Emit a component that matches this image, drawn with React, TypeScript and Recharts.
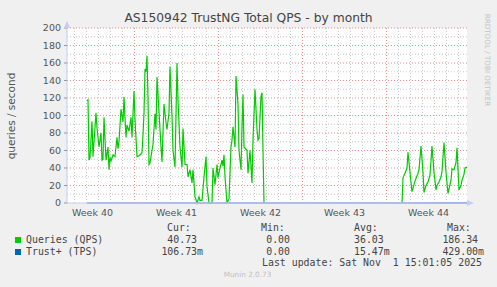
import { LineChart, Line, XAxis, YAxis, ReferenceLine, CartesianGrid } from 'recharts'

// hours since the left edge of the month graph (400px = 800h)
const qpsHoursA = [
  40, 42, 44, 46, 50, 52, 54, 58, 60, 64, 68, 70, 72, 74, 78, 82, 84, 86, 88, 92, 96, 100, 102, 104,
  108, 112, 114, 118, 120, 124, 128, 130, 134, 136, 140, 144, 148, 150, 152, 154, 156, 158, 160, 162,
  164, 166, 170, 172, 176, 178, 180, 184, 188, 190, 194, 198, 200, 204, 206, 210, 212, 216, 220, 222,
  226, 230, 232, 236, 240, 242, 246, 250, 252, 256, 260, 264, 266, 270, 274, 278, 280, 284, 290, 292,
  296, 300, 302, 306, 310, 312, 314, 316, 320, 324, 328, 330, 332, 336, 338, 342, 344, 348, 350, 352,
  354, 360, 362, 366, 370, 372, 376, 380, 382, 384, 388, 390, 392, 394,
]
const qpsValuesA = [
  117, 118, 49, 52, 93, 53, 70, 103, 86, 64, 80, 49, 50, 98, 49, 64, 38, 52, 48, 55, 53, 75, 62, 70,
  107, 93, 121, 75, 89, 82, 98, 75, 128, 95, 53, 54, 56, 58, 78, 103, 153, 150, 168, 120,
  44, 46, 60, 67, 102, 84, 144, 104, 64, 47, 113, 92, 84, 103, 156, 99, 60, 41, 160, 118,
  64, 41, 85, 44, 44, 30, 38, 23, 38, 7, 0, 7, 3, 3, 30, 53, 19, 0, 0, 40,
  21, 44, 29, 40, 49, 42, 55, 30, 0, 5, 64, 72, 87, 64, 145, 113, 60, 38, 87, 124,
  64, 60, 34, 60, 23, 72, 130, 84, 72, 74, 122, 126, 60, 0,
]
const qpsHoursB = [
  670, 672, 676, 680, 682, 686, 690, 692, 696, 702, 704, 708, 712, 714, 718, 722, 726, 730, 734, 738,
  740, 744, 748, 750, 754, 758, 762, 764, 768, 770, 774, 778, 780, 784, 788, 790, 794, 796, 800,
]
const qpsValuesB = [
  0, 29, 34, 40, 58, 35, 13, 17, 25, 34, 38, 65, 35, 12, 20, 24, 32, 65, 35, 15,
  20, 24, 30, 36, 69, 35, 11, 16, 26, 39, 38, 46, 63, 15, 20, 26, 33, 40, 41,
]
const tpsHours = [40, 120, 200, 280, 360, 440, 520, 600, 680, 760, 800]
const tpsValues = [0.02, 0.01, 0.03, 0, 0.02, 0, 0, 0, 0.05, 0.1, 0.107]

const weekTicks = [51, 219, 387, 555, 723]
const weekLabels = ['Week 40', 'Week 41', 'Week 42', 'Week 43', 'Week 44']
const weekStarts = [135, 303, 471, 639]
const dayLines = [15, 39, 63, 87, 111, 159, 183, 207, 231, 255, 279, 327, 351, 375, 399, 423, 447,
  495, 519, 543, 567, 591, 615, 663, 687, 711, 735, 759, 783]
const yTicks = [0, 20, 40, 60, 80, 100, 120, 140, 160, 180, 200]
const yMinor = [10, 30, 50, 70, 90, 110, 130, 150, 170, 190]

const legendRows = [
  { name: 'Queries (QPS)', color: '#00CC00', cur: '40.73', min: '0.00', avg: '36.03', max: '186.34' },
  { name: 'Trust+ (TPS)', color: '#0066B3', cur: '106.73m', min: '0.00', avg: '15.47m', max: '429.00m' },
]

const qpsData = [
  ...qpsHoursA.map((h, i) => ({ h, v: qpsValuesA[i] })),
  { h: 530, v: null },
  ...qpsHoursB.map((h, i) => ({ h, v: qpsValuesB[i] })),
]
const tpsData = tpsHours.map((h, i) => ({ h, v: tpsValues[i] }))

const mono = '"DejaVu Sans Mono", monospace'
const sans = '"DejaVu Sans", sans-serif'

const Txt = ({ x, y, size, color, font, children, style }: any) => (
  <div
    style={{
      position: 'absolute', left: x, top: y - size * 0.6, fontSize: size, lineHeight: 1.2,
      color, fontFamily: font, whiteSpace: 'pre', ...style,
    }}
  >
    {children}
  </div>
)

export default function App() {
  const tickStyle = { fontSize: 9.5, fill: '#555', fontFamily: sans }
  return (
    <div style={{ position: 'absolute', left: 0, top: 0, width: 497, height: 287, background: '#F0F0F0', overflow: 'hidden' }}>
      <LineChart width={497} height={287} data={qpsData} margin={{ top: 28, right: 30, left: 0, bottom: 0 }}>
        <CartesianGrid fill="#ffffff" stroke="none" />
        <XAxis
          dataKey="h"
          type="number"
          domain={[0, 800]}
          ticks={weekTicks}
          tickFormatter={(t: number) => weekLabels[weekTicks.indexOf(t)]}
          height={84}
          tick={tickStyle}
          tickLine={false}
          tickSize={4}
          tickMargin={2}
          axisLine={{ stroke: '#C4C8F0' }}
          interval={0}
        />
        <YAxis
          type="number"
          domain={[0, 200]}
          ticks={yTicks}
          width={67}
          tick={tickStyle}
          tickLine={{ stroke: '#999' }}
          tickSize={3}
          tickMargin={3}
          axisLine={{ stroke: '#C4C8F0' }}
          interval={0}
        />
        {dayLines.map((d) => (
          <ReferenceLine key={'d' + d} x={d} stroke="#C8C8C8" strokeDasharray="1 2" />
        ))}
        {yMinor.map((v) => (
          <ReferenceLine key={'m' + v} y={v} stroke="#C8C8C8" strokeDasharray="1 2" />
        ))}
        {weekStarts.map((w) => (
          <ReferenceLine key={'w' + w} x={w} stroke="#E48E8E" strokeDasharray="1 2" />
        ))}
        {yTicks.slice(1).map((v) => (
          <ReferenceLine key={'y' + v} y={v} stroke="#E48E8E" strokeDasharray="1 2" />
        ))}
        <Line
          data={qpsData}
          dataKey="v"
          stroke="#00CC00"
          strokeWidth={1.2}
          dot={false}
          connectNulls={false}
          isAnimationActive={false}
          type="linear"
        />
        <Line
          data={tpsData}
          dataKey="v"
          stroke="#7B9DD6"
          strokeWidth={1.6}
          dot={false}
          isAnimationActive={false}
          type="linear"
        />
      </LineChart>

      <svg width={497} height={287} style={{ position: 'absolute', left: 0, top: 0, pointerEvents: 'none' }}>
        <polygon points="64,28 70,28 67,21" fill="#C8CCF4" />
        <polygon points="467,200 467,206 474,203" fill="#C8CCF4" />
      </svg>

      <div style={{ position: 'absolute', left: 0, top: 11, width: 497, textAlign: 'center', fontSize: 12.3, fontFamily: sans, color: '#444', lineHeight: 1.2 }}>
        AS150942 TrustNG Total QPS - by month
      </div>
      <div
        style={{
          position: 'absolute', left: 11, top: 116, fontSize: 10.5, fontFamily: sans, color: '#555',
          whiteSpace: 'pre', transform: 'translate(-50%, -50%) rotate(-90deg)', lineHeight: 1.2,
        }}
      >
        queries / second
      </div>
      <div
        style={{
          position: 'absolute', left: 487, top: 60, fontSize: 7.2, fontFamily: sans, color: '#C4C4C4',
          whiteSpace: 'pre', transform: 'translate(-50%, -50%) rotate(90deg)', lineHeight: 1.2,
        }}
      >
        RRDTOOL / TOBI OETIKER
      </div>

      <Txt x={167} y={228} size={9.9} color="#444" font={mono}>Cur:</Txt>
      <Txt x={261} y={228} size={9.9} color="#444" font={mono}>Min:</Txt>
      <Txt x={354} y={228} size={9.9} color="#444" font={mono}>Avg:</Txt>
      <Txt x={447} y={228} size={9.9} color="#444" font={mono}>Max:</Txt>
      {legendRows.map((r, i) => {
        const y = 240 + i * 11.7
        return (
          <div key={r.name}>
            <div style={{ position: 'absolute', left: 15, top: y - 3, width: 6, height: 6, background: r.color }} />
            <Txt x={26} y={y} size={9.9} color="#444" font={mono}>{r.name}</Txt>
            <Txt x={203} y={y} size={9.9} color="#444" font={mono} style={{ transform: 'translateX(-100%)' }}>{r.cur.endsWith('m') ? r.cur : r.cur + ' '}</Txt>
            <Txt x={290} y={y} size={9.9} color="#444" font={mono} style={{ transform: 'translateX(-100%)' }}>{r.min}</Txt>
            <Txt x={354} y={y} size={9.9} color="#444" font={mono}>{r.avg}</Txt>
            <Txt x={484} y={y} size={9.9} color="#444" font={mono} style={{ transform: 'translateX(-100%)' }}>{r.max.endsWith('m') ? r.max : r.max + ' '}</Txt>
          </div>
        )
      })}
      <Txt x={262} y={263} size={9.9} color="#444" font={mono}>Last update: Sat Nov  1 15:01:05 2025</Txt>
      <div style={{ position: 'absolute', left: 0, top: 271, width: 495, textAlign: 'center', fontSize: 7.3, fontFamily: sans, color: '#C0C0C0', lineHeight: 1.2 }}>
        Munin 2.0.73
      </div>
    </div>
  )
}
